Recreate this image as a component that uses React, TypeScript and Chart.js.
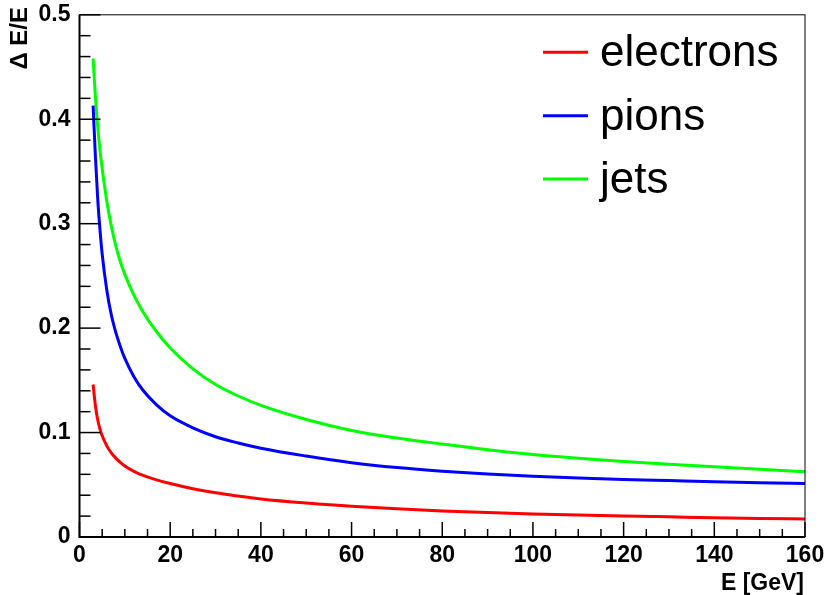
import React, { useEffect, useRef } from "react";
import { Chart, registerables } from "chart.js";

Chart.register(...registerables);

// Beam energy E [GeV] at which the resolutions were read
const energies = [3, 3.5, 4, 4.5, 5, 6, 7, 8, 9, 10, 12, 14, 17, 20, 25, 30, 35, 40, 50, 60, 70, 80, 90, 100, 110, 120, 130, 140, 150, 160];

// Relative energy resolution ΔE/E
const electrons = [0.146, 0.126, 0.1125, 0.1035, 0.097, 0.0875, 0.0805, 0.0755, 0.0715, 0.068, 0.0628, 0.059, 0.0547, 0.0512, 0.0462, 0.0423, 0.0392, 0.0364, 0.0325, 0.0295, 0.027, 0.025, 0.0234, 0.0221, 0.021, 0.0201, 0.0193, 0.0185, 0.0178, 0.0172];
const pions = [0.413, 0.365, 0.325, 0.295, 0.271, 0.237, 0.213, 0.196, 0.1825, 0.171, 0.1535, 0.1405, 0.1265, 0.116, 0.1045, 0.096, 0.09, 0.085, 0.0775, 0.0712, 0.0665, 0.063, 0.0603, 0.0582, 0.0565, 0.0551, 0.054, 0.0529, 0.052, 0.0513];
const jets = [0.458, 0.422, 0.394, 0.371, 0.353, 0.322, 0.298, 0.279, 0.2635, 0.2515, 0.2315, 0.2155, 0.1965, 0.181, 0.161, 0.146, 0.135, 0.126, 0.1125, 0.102, 0.0948, 0.089, 0.0836, 0.079, 0.0755, 0.0724, 0.0697, 0.0672, 0.0648, 0.0625];

const seriesLabels = ["electrons", "pions", "jets"];
const seriesColors = ["#ff0000", "#0000ff", "#00ff00"];

const xTitle = "E [GeV]";
const yTitle = "\u0394 E/E";
const xMin = 0, xMax = 160, xStep = 20, xMinorDiv = 4;
const yMin = 0, yMax = 0.5, yStep = 0.1, yMinorDiv = 5;

const FONT = '"Liberation Sans", Arial, Helvetica, sans-serif';

const rootStyle = {
  id: "rootStyle",
  afterDraw(chart: any) {
    const { ctx, chartArea: a, scales } = chart;
    const x = scales.x, y = scales.y;
    ctx.save();
    ctx.strokeStyle = "#000";
    // frame
    ctx.lineWidth = 1;
    ctx.strokeRect(a.left, a.top, a.right - a.left, a.bottom - a.top);
    // axes
    ctx.lineWidth = 2;
    ctx.beginPath();
    ctx.moveTo(a.left, a.top);
    ctx.lineTo(a.left, a.bottom);
    ctx.lineTo(a.right, a.bottom);
    ctx.stroke();
    // x ticks (inward)
    ctx.lineWidth = 1.5;
    const xMinorStep = xStep / xMinorDiv;
    for (let i = 0; xMin + i * xMinorStep <= xMax + 1e-9; i++) {
      const v = xMin + i * xMinorStep;
      const px = x.getPixelForValue(v);
      const len = i % xMinorDiv === 0 ? 15 : 8;
      ctx.beginPath();
      ctx.moveTo(px, a.bottom);
      ctx.lineTo(px, a.bottom - len);
      ctx.stroke();
    }
    // y ticks (inward)
    const yMinorStep = yStep / yMinorDiv;
    for (let i = 0; yMin + i * yMinorStep <= yMax + 1e-9; i++) {
      const v = yMin + i * yMinorStep;
      const py = y.getPixelForValue(v);
      const len = i % yMinorDiv === 0 ? 21 : 11;
      ctx.beginPath();
      ctx.moveTo(a.left, py);
      ctx.lineTo(a.left + len, py);
      ctx.stroke();
    }
    // axis titles
    ctx.fillStyle = "#000";
    ctx.font = `bold 23px ${FONT}`;
    ctx.textAlign = "right";
    ctx.textBaseline = "alphabetic";
    ctx.fillText(xTitle, a.right - 1, 590);
    ctx.save();
    ctx.translate(27, 7);
    ctx.rotate(-Math.PI / 2);
    ctx.font = `bold 24px ${FONT}`;
    ctx.textAlign = "right";
    ctx.fillText(yTitle, 0, 0);
    ctx.restore();
    // legend
    ctx.font = `44px ${FONT}`;
    ctx.textAlign = "left";
    chart.data.datasets.forEach((ds: any, i: number) => {
      const ly = 52.3 + i * 63.4;
      ctx.strokeStyle = ds.borderColor;
      ctx.lineWidth = 3;
      ctx.beginPath();
      ctx.moveTo(543, ly);
      ctx.lineTo(588, ly);
      ctx.stroke();
      ctx.fillStyle = "#000";
      ctx.fillText(ds.label, 600, ly + 14);
    });
    ctx.restore();
  },
};

export default function App() {
  const ref = useRef<HTMLCanvasElement>(null);
  useEffect(() => {
    if (!ref.current) return;
    const series = [electrons, pions, jets];
    const chart = new Chart(ref.current, {
      type: "line",
      data: {
        datasets: series.map((vals, k) => ({
          label: seriesLabels[k],
          data: energies.map((e, i) => ({ x: e, y: vals[i] })),
          borderColor: seriesColors[k],
          backgroundColor: seriesColors[k],
          borderWidth: 3,
          pointRadius: 0,
          cubicInterpolationMode: "monotone",
          fill: false,
        })),
      },
      options: {
        animation: false,
        responsive: false,
        layout: { padding: { top: 14, right: 22, left: 0, bottom: 0 } },
        plugins: { legend: { display: false }, tooltip: { enabled: false } },
        scales: {
          x: {
            type: "linear",
            min: xMin,
            max: xMax,
            ticks: {
              stepSize: xStep,
              autoSkip: false,
              maxRotation: 0,
              padding: -3,
              color: "#000",
              font: { family: FONT, size: 23, weight: "bold" },
            },
            grid: { display: false },
            border: { display: false },
            afterFit: (s: any) => { s.height = 58; },
          },
          y: {
            type: "linear",
            min: yMin,
            max: yMax,
            ticks: {
              stepSize: yStep,
              autoSkip: false,
              padding: 1,
              color: "#000",
              font: { family: FONT, size: 23, weight: "bold" },
            },
            grid: { display: false },
            border: { display: false },
            afterFit: (s: any) => { s.width = 79.5; },
          },
        },
      } as any,
      plugins: [rootStyle],
    });
    return () => chart.destroy();
  }, []);
  return (
    <div style={{ position: "fixed", left: 0, top: 0, width: 827, height: 595, background: "#fff" }}>
      <canvas ref={ref} width={827} height={595} style={{ display: "block" }} />
    </div>
  );
}
